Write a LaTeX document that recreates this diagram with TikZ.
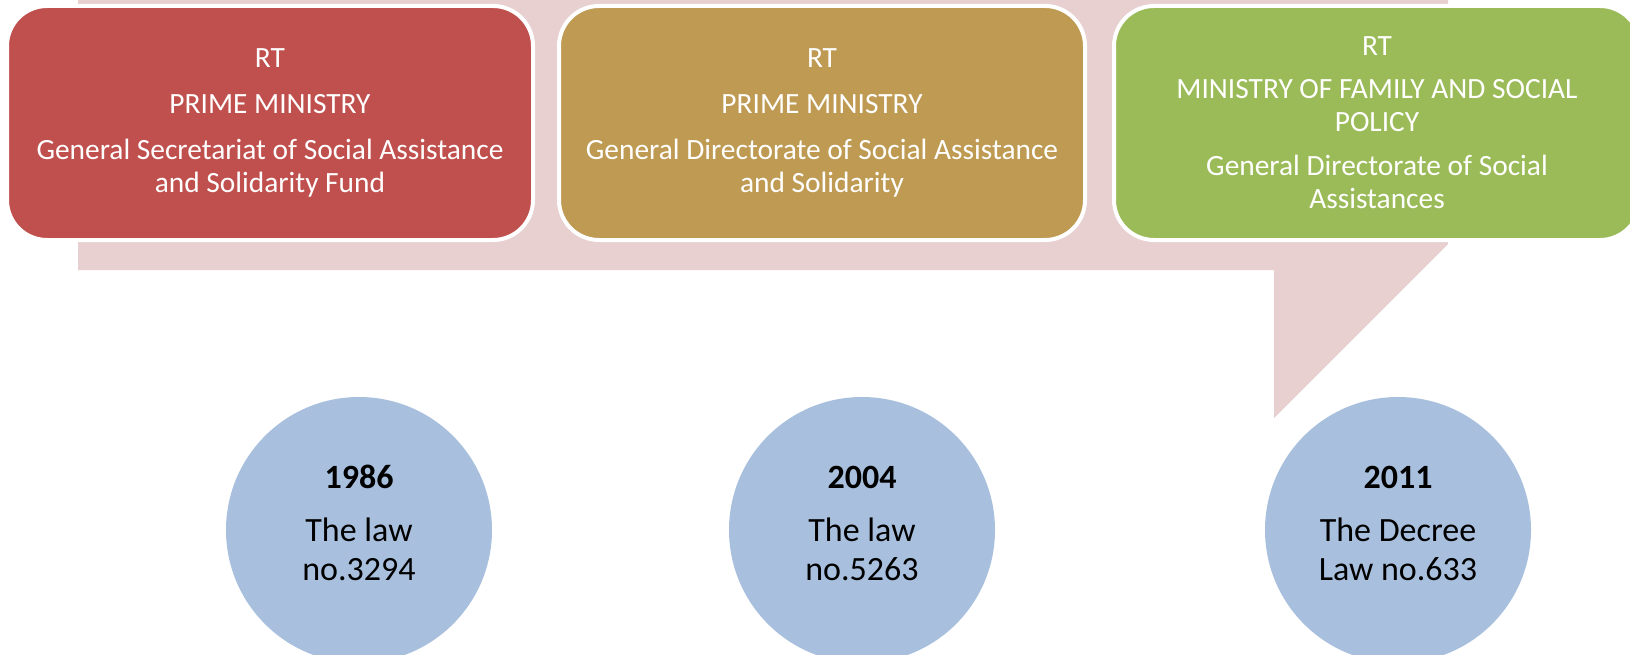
\documentclass[tikz,border=0pt]{standalone}
\usepackage{fontspec}
\setmainfont{Carlito}
\definecolor{bandpink}{HTML}{E8CFD0}
\definecolor{boxred}{HTML}{C0504D}
\definecolor{boxgold}{HTML}{BE9A53}
\definecolor{boxgreen}{HTML}{9BBB59}
\definecolor{yearblue}{HTML}{A8C0DE}
\begin{document}
\begin{tikzpicture}
[x=1pt,y=-1pt,
  boxdecorate/.style={shape=rectangle,rounded corners=40pt,draw=white,line width=4pt,
    minimum width=526pt,minimum height=234pt,inner sep=0pt,text=white,align=center,
    font=\fontsize{29.4}{33}\selectfont},%
  yeardecorate/.style={shape=circle,fill=yearblue,minimum size=266pt,inner sep=0pt},%
  yeartextdecorate/.style={align=center,yshift=7pt,font=\fontsize{34}{39}\selectfont}]
\useasboundingbox (0,0) rectangle (1630,655);
%% background band
\fill[bandpink] (78,-10) -- (1448,-10) -- (1448,244) -- (1274,418)
  -- (1274,270) -- (78,270) -- cycle;
%% institutions
\foreach \nodename/\x/\colour/\boxtext in {
  inst1986/270/boxred/{RT\\[13pt]PRIME MINISTRY\\[13pt]General Secretariat of Social Assistance\\and Solidarity Fund},
  inst2004/822/boxgold/{RT\\[13pt]PRIME MINISTRY\\[13pt]General Directorate of Social Assistance\\and Solidarity},
  inst2011/1377/boxgreen/{RT\\[10pt]MINISTRY OF FAMILY AND SOCIAL\\POLICY\\[11pt]General Directorate of Social\\Assistances}} {
  \node (\nodename) at (\x,123) [boxdecorate,fill=\colour] {\boxtext};
}
%% years
\foreach \nodename/\x/\yeartext in {
  year1986/359/{{\bfseries 1986}\\[14pt]The law\\no.3294},
  year2004/862/{{\bfseries 2004}\\[14pt]The law\\no.5263},
  year2011/1398/{{\bfseries 2011}\\[14pt]The Decree\\Law no.633}} {
  \node (\nodename) at (\x,530) [yeardecorate,
    label={[yeartextdecorate]center:\yeartext}] {};
}
\end{tikzpicture}
\end{document}
